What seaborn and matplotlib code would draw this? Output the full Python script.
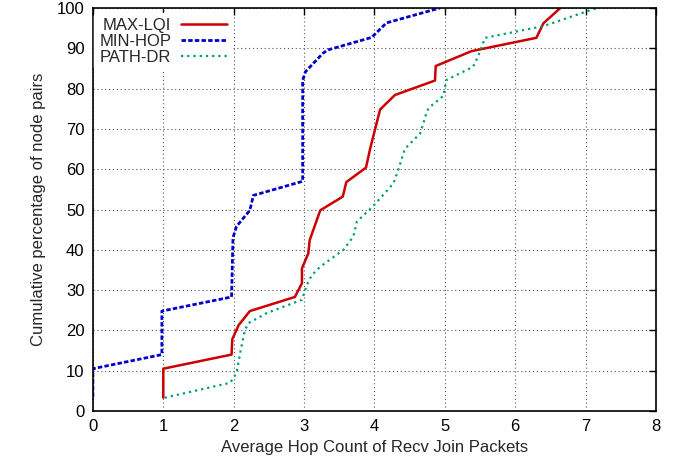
import matplotlib
matplotlib.use("Agg")
import matplotlib.pyplot as plt
import seaborn as sns
import pandas as pd

# CDF of average hop count per routing metric
maxlqi_x = [1.0, 1.0, 1.97, 1.98, 2.07, 2.23, 2.87, 2.97, 2.97, 3.06, 3.08, 3.23,
            3.55, 3.60, 3.88, 3.94, 4.08, 4.29, 4.86, 4.87, 5.38, 6.30, 6.40, 6.64]
maxlqi_y = [3.3, 10.5, 14.0, 17.8, 21.3, 24.8, 28.3, 31.7, 35.4, 39.1, 42.4, 49.8,
            53.2, 56.8, 60.4, 65.2, 74.8, 78.4, 82.0, 85.6, 89.3, 92.6, 96.2, 100.0]

minhop_x = [0.0, 0.0, 0.98, 0.98, 1.97, 1.99, 2.04, 2.23, 2.28, 2.98, 2.98, 3.02,
            3.27, 3.34, 3.96, 4.17, 4.93]
minhop_y = [3.5, 10.5, 14.0, 24.8, 28.3, 43.0, 45.8, 49.8, 53.5, 57.0, 82.0, 84.2,
            88.8, 89.6, 92.7, 96.3, 100.0]

pathdr_x = [1.02, 1.95, 2.04, 2.11, 2.16, 2.21, 2.47, 2.97, 3.04, 3.11, 3.23, 3.56,
            3.70, 3.75, 3.98, 4.27, 4.34, 4.43, 4.65, 4.74, 4.77, 4.98, 5.02, 5.40,
            5.47, 5.57, 6.40, 7.16]
pathdr_y = [3.3, 7.0, 9.4, 16.0, 20.1, 21.8, 24.3, 27.6, 31.3, 33.7, 35.8, 40.0,
            43.3, 47.0, 50.8, 56.5, 59.9, 65.0, 68.9, 74.0, 75.2, 78.2, 82.1, 85.4,
            87.9, 92.6, 95.5, 100.0]

x_ticks = [0, 1, 2, 3, 4, 5, 6, 7, 8]
y_ticks = [0, 10, 20, 30, 40, 50, 60, 70, 80, 90, 100]

sns.set_style("white")
plt.rcParams["font.family"] = ["Liberation Sans", "DejaVu Sans"]
plt.rcParams["font.size"] = 12

fig = plt.figure(figsize=(6.78, 4.70), dpi=100)
ax = fig.add_axes([0.137, 0.1255, 0.9676 - 0.137, 0.983 - 0.1255])

series = [
    ("MAX-LQI", maxlqi_x, maxlqi_y, "#cc0000", dict(linewidth=1.8, linestyle="-")),
    ("MIN-HOP", minhop_x, minhop_y, "#0000cc", dict(linewidth=2.0, dashes=(1.6, 0.8))),
    ("PATH-DR", pathdr_x, pathdr_y, "#009e73", dict(linewidth=1.6, dashes=(1.0, 1.8))),
]
for label, xs, ys, color, style in series:
    df = pd.DataFrame({"x": xs, "y": ys})
    sns.lineplot(data=df, x="x", y="y", sort=False, estimator=None, ax=ax,
                 color=color, label=label, **style)

ax.set_xlim(0, 8)
ax.set_ylim(0, 100)
ax.set_xticks(x_ticks)
ax.set_yticks(y_ticks)
ax.grid(True, color="#555555", linestyle=(0, (1, 2.5)), linewidth=0.8)
ax.tick_params(direction="in", length=5, width=1, top=True, right=True,
               labelsize=12, pad=6, colors="black")
for sp in ax.spines.values():
    sp.set_linewidth(1.2)
    sp.set_color("black")

ax.set_xlabel("Average Hop Count of Recv Join Packets", fontsize=12, labelpad=4)
ax.set_ylabel("Cumulative percentage of node pairs", fontsize=12, labelpad=8)

leg = ax.legend(loc="upper left", markerfirst=False, frameon=True, fontsize=12,
                handlelength=2.75, handletextpad=0.6, labelspacing=0.05,
                borderpad=0.3, bbox_to_anchor=(-0.012, 1.008))
leg.get_frame().set_edgecolor("white")
leg.get_frame().set_facecolor("white")
leg.get_frame().set_alpha(1.0)
for t in leg.get_texts():
    t.set_ha("right")
leg._legend_box.align = "right"

fig.savefig("out.png", dpi=100)
